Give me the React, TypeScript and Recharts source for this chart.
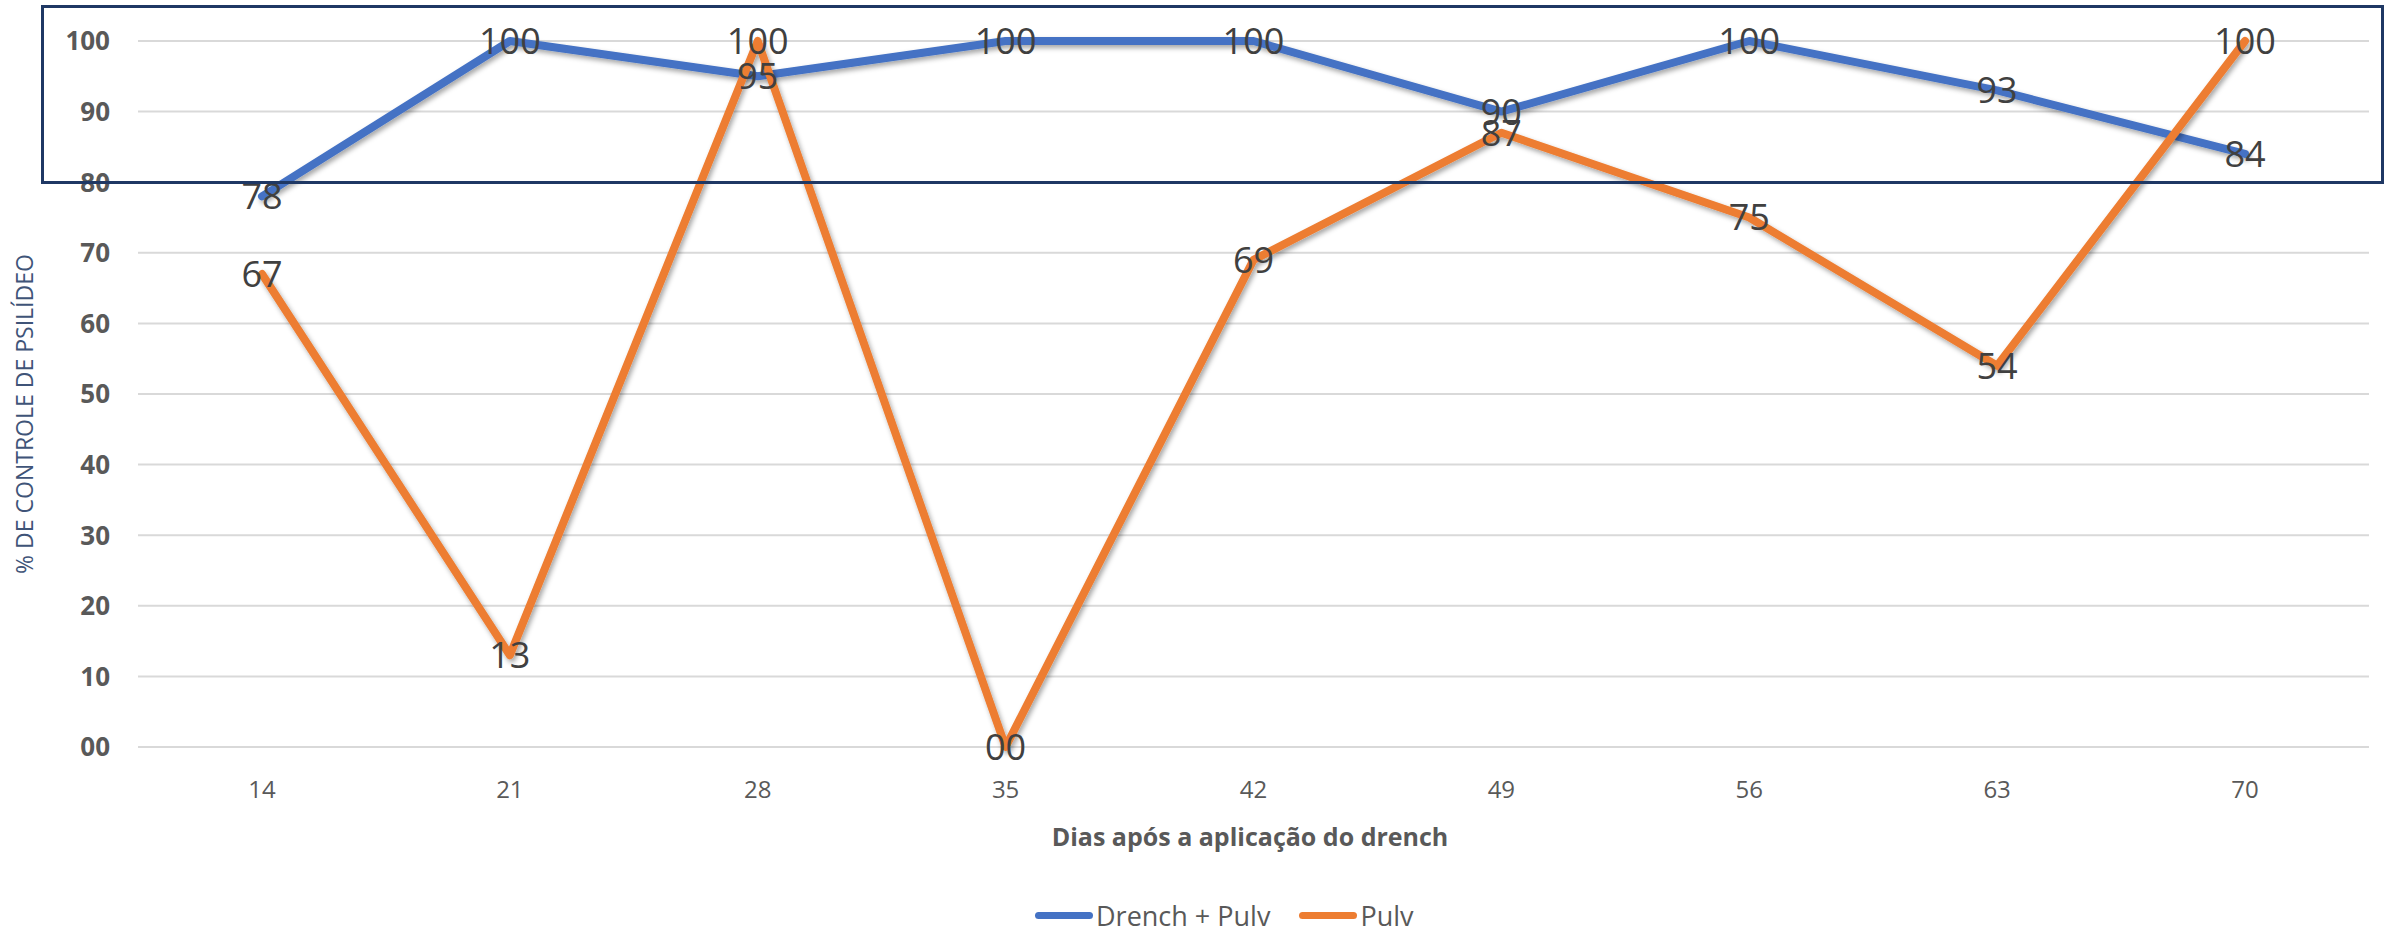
import React from 'react';
import { LineChart, Line, XAxis, YAxis, CartesianGrid, Legend, LabelList } from 'recharts';

const days = ['14', '21', '28', '35', '42', '49', '56', '63', '70'];
const drenchPulv = [78, 100, 95, 100, 100, 90, 100, 93, 84];
const pulv = [67, 13, 100, 0, 69, 87, 75, 54, 100];
const yTicks = [0, 10, 20, 30, 40, 50, 60, 70, 80, 90, 100];
const seriesNames = ['Drench + Pulv', 'Pulv'];
const seriesColors = ['#4472C4', '#ED7D31'];

const data = days.map((d, i) => ({ day: d, a: drenchPulv[i], b: pulv[i] }));

const FONT = '"Open Sans", "Noto Sans", sans-serif';
const fmt = (v: any) => String(v).padStart(2, '0');

const DataLabel = (props: any) => {
  const { x, y, value } = props;
  return (
    <text x={x} y={y} dy="0.36em" textAnchor="middle" fontFamily={FONT} fontSize={36} fill="#404040">
      {fmt(value)}
    </text>
  );
};

const YTick = (props: any) => {
  const { x, y, payload } = props;
  return (
    <text x={x} y={y} dy="0.36em" textAnchor="end" fontFamily={FONT} fontSize={26} fontWeight={700} fill="#595959">
      {fmt(payload.value)}
    </text>
  );
};

const XTick = (props: any) => {
  const { x, y, payload } = props;
  return (
    <text x={x} y={y} dy="0.71em" textAnchor="middle" fontFamily={FONT} fontSize={24} fill="#595959">
      {payload.value}
    </text>
  );
};

const LegendContent = () => (
  <div
    style={{
      display: 'flex',
      justifyContent: 'flex-start',
      alignItems: 'center',
      paddingLeft: 1035,
      fontFamily: FONT,
      fontSize: 27,
      lineHeight: '37px',
      color: '#595959',
    }}
  >
    {seriesNames.map((n, i) => (
      <div key={n} style={{ display: 'flex', alignItems: 'center', marginRight: i === 0 ? 29 : 0 }}>
        <div style={{ width: 58, height: 7, borderRadius: 4, background: seriesColors[i], marginRight: 3 }} />
        <span>{n}</span>
      </div>
    ))}
  </div>
);

export default function App() {
  return (
    <div style={{ position: 'absolute', left: 0, top: 0, width: 2392, height: 930, background: '#fff', overflow: 'hidden' }}>
      <LineChart width={2392} height={930} data={data} margin={{ top: 41, right: 23, left: 0, bottom: 153 }}>
        <defs>
          <filter id="sh" x="-5%" y="-5%" width="110%" height="120%">
            <feDropShadow dx="2" dy="3" stdDeviation="2.5" floodColor="#000" floodOpacity="0.35" />
          </filter>
        </defs>
        <CartesianGrid vertical={false} stroke="#D9D9D9" strokeWidth={2} />
        <XAxis
          dataKey="day"
          height={30}
          padding={{ left: 124, right: 124 }}
          axisLine={false}
          tickLine={false}
          tickSize={0}
          tickMargin={34}
          tick={<XTick />}
          label={{
            content: (p: any) => (
              <text x={1250} y={837} dy="0.36em" textAnchor="middle" fontFamily={FONT} fontSize={25} fontWeight={700} fill="#595959">
                Dias após a aplicação do drench
              </text>
            ),
          }}
        />
        <YAxis
          width={138}
          domain={[0, 100]}
          ticks={yTicks}
          interval={0}
          axisLine={false}
          tickLine={false}
          tickSize={0}
          tickMargin={28}
          tick={<YTick />}
          label={{
            content: (p: any) => (
              <text
                x={25}
                y={414}
                dy="0.36em"
                textAnchor="middle"
                transform="rotate(-90 25 414)"
                fontFamily={FONT}
                fontSize={23}
                fill="#3F5478"
              >
                % DE CONTROLE DE PSILÍDEO
              </text>
            ),
          }}
        />
        <Legend
          layout="horizontal"
          verticalAlign="middle"
          align="center"
          content={<LegendContent />}
          wrapperStyle={{ position: 'absolute', left: 0, top: 897, width: 2392 }}
        />
        <Line
          dataKey="a"
          name={seriesNames[0]}
          stroke={seriesColors[0]}
          strokeWidth={8}
          dot={false}
          strokeLinejoin="round"
          strokeLinecap="round"
          filter="url(#sh)"
          isAnimationActive={false}
        >
          <LabelList dataKey="a" content={<DataLabel />} />
        </Line>
        <Line
          dataKey="b"
          name={seriesNames[1]}
          stroke={seriesColors[1]}
          strokeWidth={8}
          dot={false}
          strokeLinejoin="round"
          strokeLinecap="round"
          filter="url(#sh)"
          isAnimationActive={false}
        >
          <LabelList dataKey="b" content={<DataLabel />} />
        </Line>
      </LineChart>
      <div
        style={{
          position: 'absolute',
          left: 41,
          top: 5,
          width: 2343,
          height: 179,
          border: '3px solid #1F3864',
          boxSizing: 'border-box',
          pointerEvents: 'none',
        }}
      />
    </div>
  );
}
